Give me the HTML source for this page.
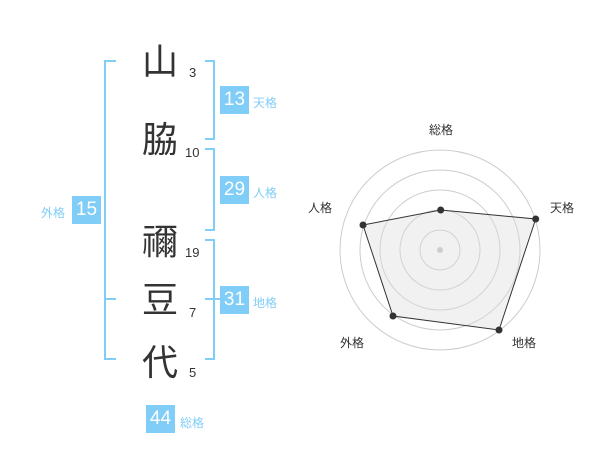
<!DOCTYPE html>
<html><head><meta charset="utf-8"><style>
body{margin:0;width:600px;height:470px;background:#fff;position:relative;overflow:hidden;font-family:"Liberation Sans","Noto Sans CJK JP",sans-serif}
.a{position:absolute}
.k{position:absolute;font-size:36px;color:#333;width:40px;text-align:center;line-height:40px;left:140px}
.n{position:absolute;font-size:13px;color:#333;line-height:14px}
.b{position:absolute;width:29px;height:28px;background:#80cdf8;color:#fff;font-size:19px;line-height:28px;text-align:center}
.l{position:absolute;font-size:12px;color:#80cdf8;line-height:14px}
</style></head><body>
<svg class="a" style="left:0;top:0" width="600" height="470">
<g fill="none" stroke="#80cdf8" stroke-width="2">
<polyline points="116,61 105,61 105,359 116,359"/><line x1="105" y1="299" x2="116" y2="299"/>
<polyline points="205,61 214,61 214,139 205,139"/>
<polyline points="205,149 214,149 214,230 205,230"/>
<polyline points="205,240 214,240 214,359 205,359"/><line x1="205" y1="299" x2="220" y2="299"/>
</g>
<g fill="none" stroke="#ccc" stroke-width="1">
<circle cx="440" cy="250" r="100"/><circle cx="440" cy="250" r="80"/><circle cx="440" cy="250" r="60"/><circle cx="440" cy="250" r="40"/><circle cx="440" cy="250" r="20"/>
</g>
<polygon points="440.7,210 535.7,219 499,330 393,316 363,225" fill="rgba(220,220,220,0.4)" stroke="#333" stroke-width="1"/>
<circle cx="440" cy="250" r="3" fill="#ccc"/>
<g fill="#333"><circle cx="440.7" cy="210" r="3.5"/><circle cx="535.7" cy="219" r="3.5"/><circle cx="499" cy="330" r="3.5"/><circle cx="393" cy="316" r="3.5"/><circle cx="363" cy="225" r="3.5"/></g>
<g font-size="12" fill="#333" font-family="Liberation Sans,Noto Sans CJK JP,sans-serif" text-anchor="middle">
<text x="441" y="134">総格</text><text x="562" y="212">天格</text><text x="320" y="212">人格</text><text x="352" y="347">外格</text><text x="524" y="347">地格</text>
</g>
</svg>
<div class="k" style="top:42px">山</div>
<div class="k" style="top:120px">脇</div>
<div class="k" style="top:222px">禰</div>
<div class="k" style="top:280px">豆</div>
<div class="k" style="top:343px">代</div>
<div class="n" style="left:189px;top:66px">3</div>
<div class="n" style="left:185px;top:146px">10</div>
<div class="n" style="left:185px;top:246px">19</div>
<div class="n" style="left:189px;top:306px">7</div>
<div class="n" style="left:189px;top:366px">5</div>
<div class="b" style="left:220px;top:86px">13</div><div class="l" style="left:253px;top:96px">天格</div>
<div class="b" style="left:220px;top:176px">29</div><div class="l" style="left:253px;top:186px">人格</div>
<div class="b" style="left:220px;top:286px">31</div><div class="l" style="left:253px;top:296px">地格</div>
<div class="b" style="left:72px;top:196px">15</div><div class="l" style="left:41px;top:206px">外格</div>
<div class="b" style="left:146px;top:405px">44</div><div class="l" style="left:180px;top:416px">総格</div>
</body></html>
